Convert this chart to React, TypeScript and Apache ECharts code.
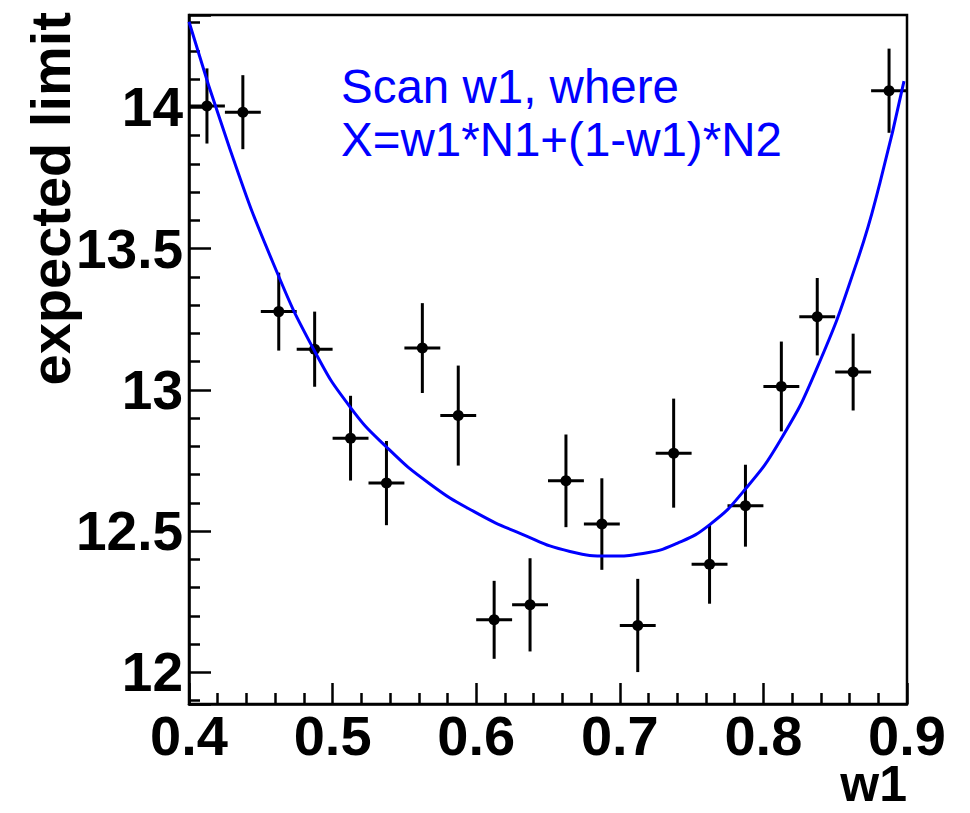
import React, { useEffect, useRef } from "react";
import * as echarts from "echarts";

// Scan points (w1 bin centres) with errors
const pointW1 = [0.4125, 0.4375, 0.4625, 0.4875, 0.5125, 0.5375, 0.5625, 0.5875, 0.6125, 0.6375,
  0.6625, 0.6875, 0.7125, 0.7375, 0.7625, 0.7875, 0.8125, 0.8375, 0.8625, 0.8875];
const pointLimit = [14.005, 13.983, 13.277, 13.144, 12.829, 12.670, 13.148, 12.909, 12.186, 12.239,
  12.678, 12.525, 12.166, 12.776, 12.383, 12.590, 13.012, 13.259, 13.063, 14.059];
const pointErrY = [0.133, 0.131, 0.138, 0.133, 0.150, 0.149, 0.159, 0.177, 0.138, 0.165,
  0.164, 0.162, 0.165, 0.193, 0.140, 0.145, 0.159, 0.137, 0.136, 0.149];
const pointErrX = [0.0125, 0.0125, 0.0125, 0.0125, 0.0125, 0.0125, 0.0125, 0.0125, 0.0125, 0.0125,
  0.0125, 0.0125, 0.0125, 0.0125, 0.0125, 0.0125, 0.0125, 0.0125, 0.0125, 0.0125];

// Fit curve
const fitW1 = [0.4, 0.4286, 0.4585, 0.4877, 0.5121, 0.5379, 0.5678, 0.5992, 0.6305, 0.6653, 0.6932,
  0.7162, 0.7399, 0.7629, 0.7858, 0.8116, 0.8373, 0.8652, 0.8812, 0.8979];
const fitLimit = [14.303, 13.851, 13.450, 13.135, 12.940, 12.796, 12.667, 12.567, 12.492, 12.428, 12.412,
  12.421, 12.457, 12.524, 12.639, 12.820, 13.077, 13.454, 13.734, 14.093];

const xTitle = "w1";
const yTitle = "expected limit";
const noteLines = ["Scan w1, where", "X=w1*N1+(1-w1)*N2"];

const FONT = "'Liberation Sans', Arial, Helvetica, sans-serif";

export default function App() {
  const ref = useRef<HTMLDivElement>(null);
  useEffect(() => {
    if (!ref.current) return;
    const chart = echarts.init(ref.current, undefined, { renderer: "svg" });
    const pts = pointW1.map((x, i) => [x, pointLimit[i], pointErrX[i], pointErrY[i]]);
    const fit = fitW1.map((x, i) => [x, fitLimit[i]]);
    chart.setOption({
      animation: false,
      backgroundColor: "#ffffff",
      grid: {
        left: 189, top: 15, right: 63, bottom: 109,
        show: true, borderColor: "#000", borderWidth: 2.5, backgroundColor: "transparent",
      },
      xAxis: {
        type: "value", min: 0.4, max: 0.9, interval: 0.1,
        axisLine: { show: true, lineStyle: { color: "#000", width: 2.5 } },
        axisTick: { show: true, inside: true, length: 21, lineStyle: { color: "#000", width: 2.5 } },
        minorTick: { show: true, splitNumber: 5, length: 11, lineStyle: { color: "#000", width: 2.5 } },
        splitLine: { show: false },
        axisLabel: {
          color: "#000", fontFamily: FONT, fontWeight: "bold", fontSize: 56, margin: 3,
          formatter: (v: number) => v.toFixed(1),
        },
      },
      yAxis: {
        type: "value", min: 11.888, max: 14.327,
        axisLine: { show: true, lineStyle: { color: "#000", width: 2.5 } },
        axisTick: { show: true, inside: true, length: 22, lineStyle: { color: "#000", width: 2.5 } },
        minorTick: { show: true, splitNumber: 5, length: 11, lineStyle: { color: "#000", width: 2.5 } },
        splitLine: { show: false },
        axisLabel: {
          color: "#000", fontFamily: FONT, fontWeight: "bold", fontSize: 55, margin: 6,
          showMinLabel: false, showMaxLabel: false,
          formatter: (v: number) => {
            const r = Math.round(v * 2) / 2;
            return Math.abs(v - r) < 1e-6 ? String(r) : "";
          },
        },
      },
      graphic: [
        {
          type: "text", x: 50, y: 12, rotation: Math.PI / 2,
          style: { text: yTitle, font: `bold 56px ${FONT}`, fill: "#000", align: "right", verticalAlign: "middle" },
        },
        {
          type: "text", x: 907, y: 784,
          style: { text: xTitle, font: `bold 50px ${FONT}`, lineHeight: 40, fill: "#000", align: "right", verticalAlign: "middle" },
        },
        {
          type: "text", x: 341, y: 86,
          style: { text: noteLines[0], font: `47.5px ${FONT}`, fill: "#0000ff", align: "left", verticalAlign: "middle" },
        },
        {
          type: "text", x: 341, y: 139,
          style: { text: noteLines[1], font: `47.5px ${FONT}`, fill: "#0000ff", align: "left", verticalAlign: "middle" },
        },
      ],
      series: [
        {
          type: "custom",
          z: 2,
          encode: { x: 0, y: 1 },
          data: pts,
          clip: true,
          renderItem: (params: any, api: any) => {
            const x = api.value(0), y = api.value(1), ex = api.value(2), ey = api.value(3);
            const c = api.coord([x, y]);
            const l = api.coord([x - ex, y]);
            const r = api.coord([x + ex, y]);
            const t = api.coord([x, y + ey]);
            const b = api.coord([x, y - ey]);
            return {
              type: "group",
              children: [
                { type: "line", shape: { x1: l[0], y1: l[1], x2: r[0], y2: r[1] }, style: { stroke: "#000", lineWidth: 3 } },
                { type: "line", shape: { x1: t[0], y1: t[1], x2: b[0], y2: b[1] }, style: { stroke: "#000", lineWidth: 3 } },
                { type: "circle", shape: { cx: c[0], cy: c[1], r: 5.5 }, style: { fill: "#000" } },
              ],
            };
          },
        },
        {
          type: "line",
          z: 3,
          data: fit,
          smooth: 0.5,
          showSymbol: false,
          symbol: "none",
          clip: true,
          lineStyle: { color: "#0000ff", width: 3 },
        },
      ],
    });
    return () => chart.dispose();
  }, []);
  return (
    <div
      ref={ref}
      style={{ position: "fixed", left: 0, top: 0, width: 970, height: 813, background: "#fff" }}
    />
  );
}
